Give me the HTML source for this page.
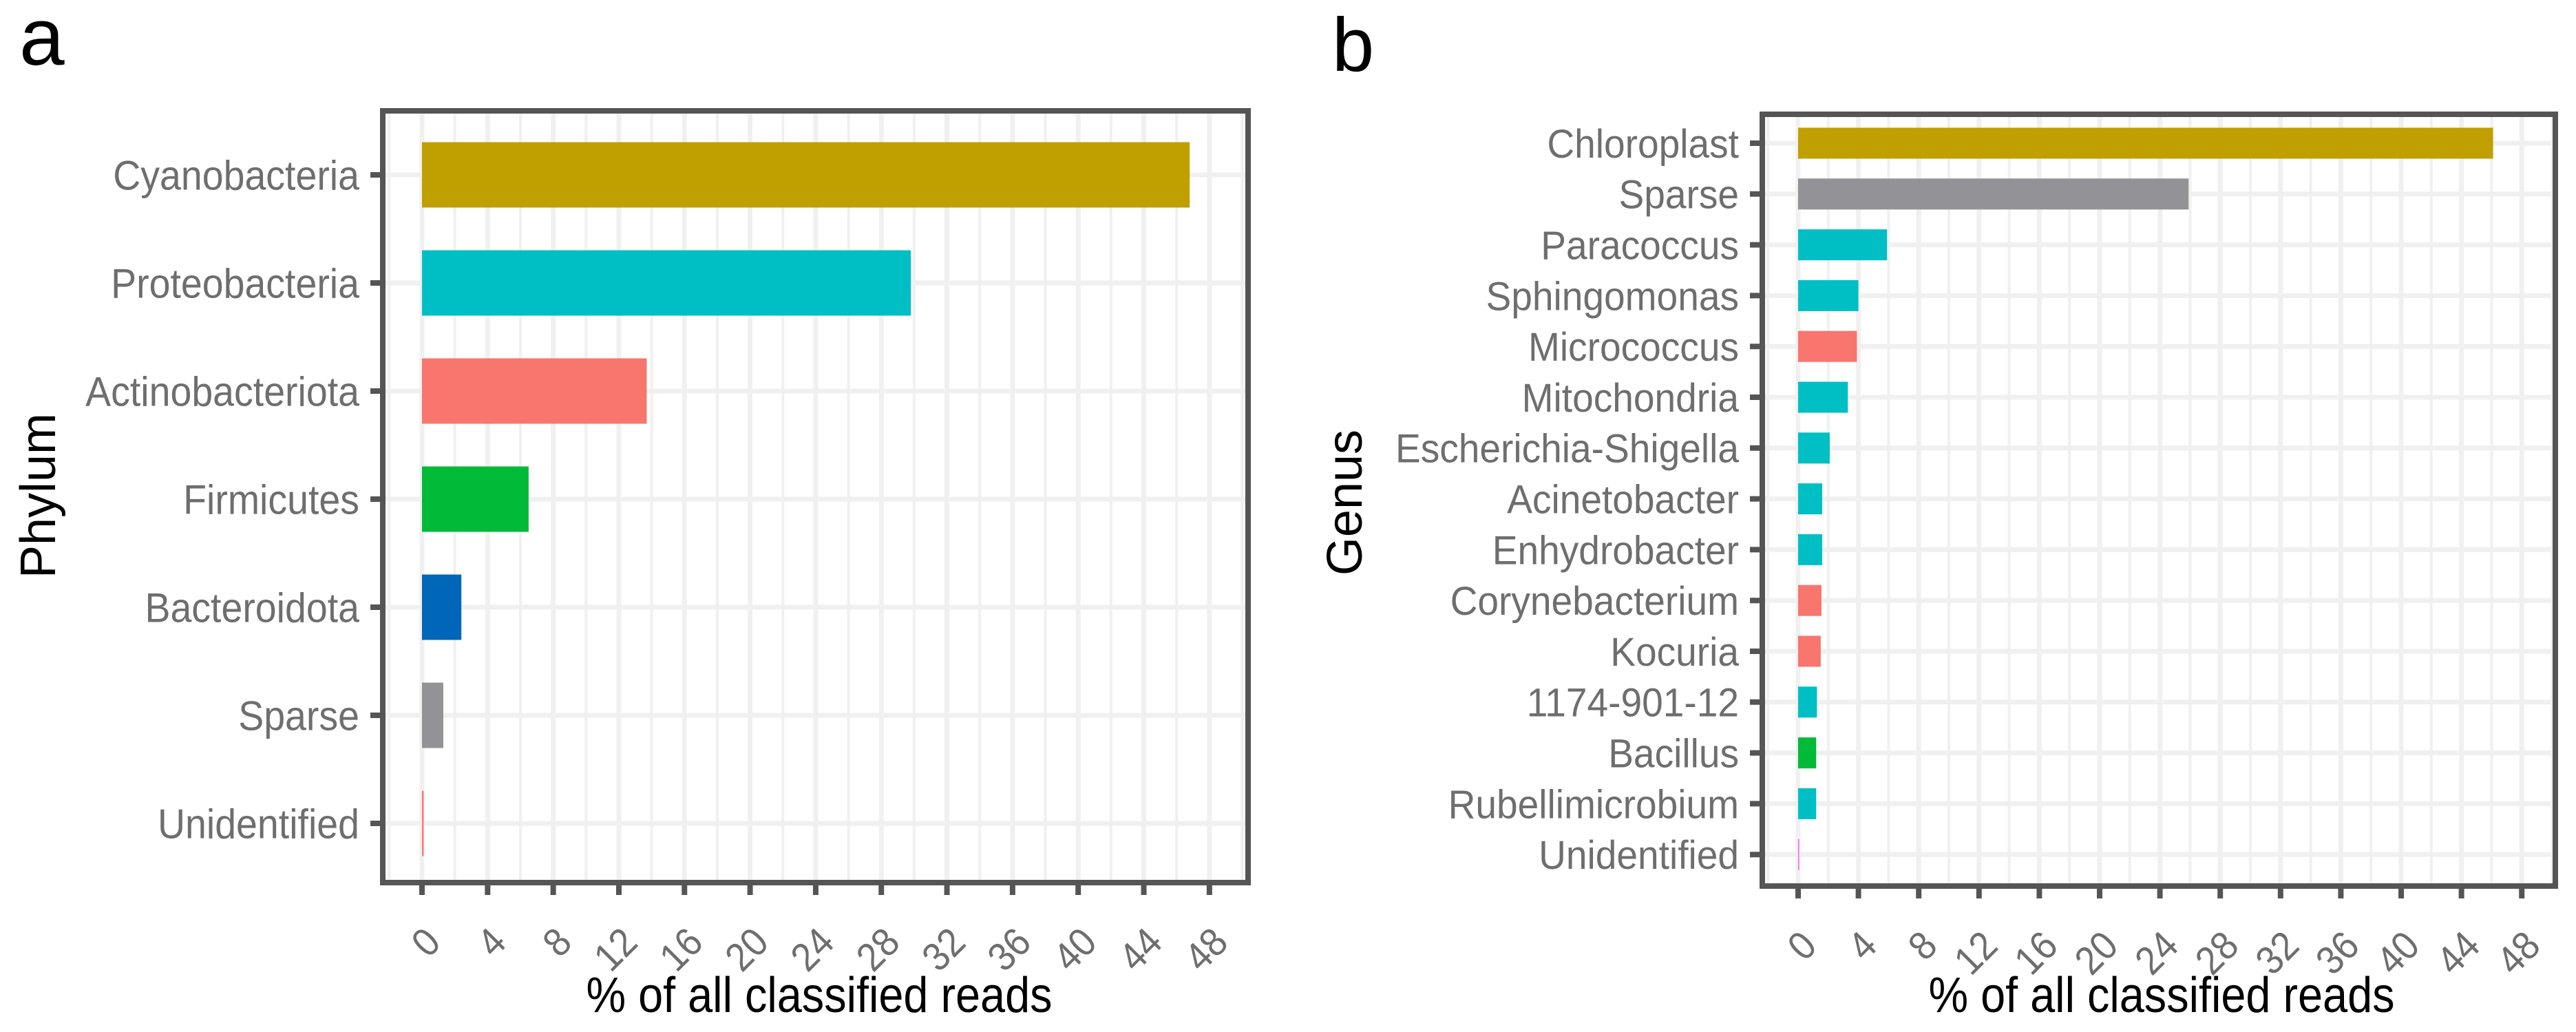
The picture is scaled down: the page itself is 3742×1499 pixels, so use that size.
<!DOCTYPE html>
<html><head><meta charset="utf-8"><style>
html,body{margin:0;padding:0;background:#fff;}
svg{display:block;}
text{font-family:"Liberation Sans",Arial,sans-serif;}
</style></head><body>
<svg id="fig" width="3742" height="1499" viewBox="0 0 3742 1499" xmlns="http://www.w3.org/2000/svg">
<rect width="3742" height="1499" fill="#fff"/>
<text x="28" y="94" font-size="118" fill="#000">a</text>
<text x="1935" y="103" font-size="110" fill="#000">b</text>
<g id="pa"></g>
<g id="pb"></g>
</svg>
<script>
const phylaCats = ["Cyanobacteria","Proteobacteria","Actinobacteriota","Firmicutes","Bacteroidota","Sparse","Unidentified"];
const phylaVals = [46.8, 29.8, 13.7, 6.5, 2.4, 1.3, 0.1];
const phylaColors = ["#C09F00","#00BFC4","#F8766D","#00BA38","#0066B8","#929297","#F8766D"];
const genusCats = ["Chloroplast","Sparse","Paracoccus","Sphingomonas","Micrococcus","Mitochondria","Escherichia-Shigella","Acinetobacter","Enhydrobacter","Corynebacterium","Kocuria","1174-901-12","Bacillus","Rubellimicrobium","Unidentified"];
const genusVals = [46.1, 25.9, 5.9, 4.0, 3.9, 3.3, 2.1, 1.6, 1.6, 1.55, 1.5, 1.25, 1.2, 1.2, 0.05];
const genusColors = ["#C09F00","#929297","#00BFC4","#00BFC4","#F8766D","#00BFC4","#00BFC4","#00BFC4","#00BFC4","#F8766D","#F8766D","#00BFC4","#00BA38","#00BFC4","#F564E3"];
const xTicks = [0,4,8,12,16,20,24,28,32,36,40,44,48];

const NS="http://www.w3.org/2000/svg";
function mk(parent, tag, attrs){const e=document.createElementNS(NS,tag);for(const k in attrs)e.setAttribute(k,attrs[k]);parent.appendChild(e);return e;}

function panel(g, cfg, cats, vals, colors, yTitle){
  const L=cfg.left, R=cfg.right, T=cfg.top, B=cfg.bottom;
  const x = v => cfg.x0 + v*cfg.ux;
  const y = i => cfg.y0 + i*cfg.pitch;
  for(let v=-2; v<=50; v+=4){
    const gl=mk(g,'line',{x1:x(v),x2:x(v),y1:T,y2:B,stroke:'#f0f0f0','stroke-width':4});
    
    
  }
  xTicks.forEach(v=>{
    const gl=mk(g,'line',{x1:x(v),x2:x(v),y1:T,y2:B,stroke:'#f0f0f0','stroke-width':7});
    
    
  });
  cats.forEach((c,i)=>{
    const gl=mk(g,'line',{x1:L,x2:R,y1:y(i),y2:y(i),stroke:'#f0f0f0','stroke-width':7});
    
    
  });
  cats.forEach((c,i)=>{
    const w=Math.max(x(vals[i])-x(0),1.5);
    const r=mk(g,'rect',{x:x(0),y:y(i)-cfg.barH/2,width:w,height:cfg.barH,fill:colors[i]});
    
    
    const lab=mk(g,'text',{x:0,y:0,'font-size':cfg.fs,fill:'#6e6e6e','text-anchor':'end',transform:`translate(${L-34} ${y(i)+cfg.fs*0.36}) scale(${cfg.sx} 1)`});
    lab.textContent=c;
    
    
    const tk=mk(g,'line',{x1:L-18,x2:L,y1:y(i),y2:y(i),stroke:'#555','stroke-width':8});
    
    
  });
  xTicks.forEach(v=>{
    const tk=mk(g,'line',{x1:x(v),x2:x(v),y1:B,y2:B+18,stroke:'#555','stroke-width':8});
    
    
    const px=x(v)+30, py=B+90;
    const t=mk(g,'text',{x:0,y:0,'font-size':58,fill:'#6e6e6e','text-anchor':'end',transform:`translate(${px} ${py}) rotate(-45) scale(0.92 1)`});
    t.textContent=String(v);
    
    
  });
  const bx=mk(g,'rect',{x:L,y:T,width:R-L,height:B-T,fill:'none',stroke:'#555','stroke-width':8});
  
  
  const xt=mk(g,'text',{x:0,y:0,'font-size':72,fill:'#000','text-anchor':'middle',transform:`translate(${cfg.xTitleX} 1470) scale(0.9 1)`});
  xt.textContent='% of all classified reads';
  
  
  const yt=mk(g,'text',{x:cfg.yTitleX,y:cfg.yTitleY,'font-size':72,fill:'#000','text-anchor':'middle',transform:`rotate(-90 ${cfg.yTitleX} ${cfg.yTitleY})`});
  yt.textContent=yTitle;
  
  
}

panel(document.getElementById('pa'),
  {left:556,right:1813,top:161,bottom:1282,x0:613,ux:23.83,y0:254,pitch:157,barH:95,fs:60,sx:0.925,xTitleX:1190,yTitleX:80,yTitleY:720},
  phylaCats, phylaVals, phylaColors, 'Phylum');
panel(document.getElementById('pb'),
  {left:2560,right:3712,top:166,bottom:1287,x0:2612,ux:21.9,y0:208,pitch:73.8,barH:45,fs:58,sx:0.95,xTitleX:3140,yTitleX:1978,yTitleY:730},
  genusCats, genusVals, genusColors, 'Genus');
</script>
</body></html>
